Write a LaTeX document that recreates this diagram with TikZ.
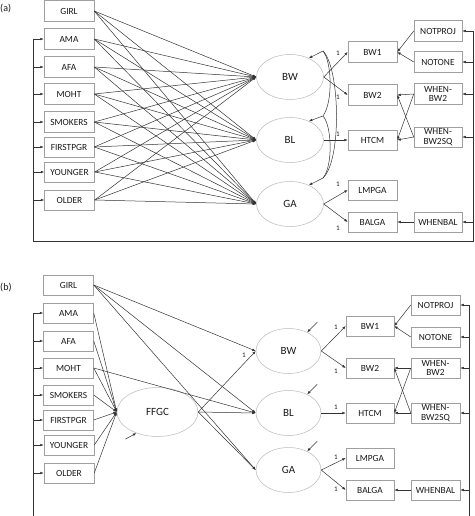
\documentclass[tikz,border=0pt]{standalone}
\usepackage{fontspec}
\setmainfont{Carlito}
\usetikzlibrary{shapes.geometric,arrows.meta,calc}
\begin{document}
\begin{tikzpicture}[x=1pt,y=-1pt,
  every path/.style={line width=0.5pt},
  conn/.style={draw=black!80},
  arr/.style={conn,-{Latex[length=3.5pt,width=2.6pt]}},
  varbox/.style={draw=gray!75,rectangle,minimum width=50pt,minimum height=20.5pt,inner sep=0pt,
    font=\fontsize{9.4}{9.8}\selectfont,text=black!90,align=center},
  rbox/.style={varbox,minimum width=49pt},
  lat/.style={draw=gray!55,ellipse,minimum width=67pt,minimum height=45pt,inner sep=0pt,
    font=\fontsize{11}{12}\selectfont,text=black!90},
  one/.style={font=\fontsize{7}{8}\selectfont,text=black!90,inner sep=0pt},
  paneltag/.style={font=\fontsize{10}{11}\selectfont,anchor=west,inner sep=0pt,text=black!90}]
\useasboundingbox (0,0) rectangle (474,516);

% ================= panel (a) =================
\node[paneltag] (tagA) at (0,9) {(a)};
\node[varbox] (aGIRL) at (69,11) {GIRL};
\node[varbox] (aAMA) at (69,39) {AMA};
\node[varbox] (aAFA) at (69,67) {AFA};
\node[varbox] (aMOHT) at (69,94) {MOHT};
\node[varbox] (aSMOKERS) at (69,122) {SMOKERS};
\node[varbox] (aFIRSTPGR) at (69,147) {FIRSTPGR};
\node[varbox] (aYOUNGER) at (69.5,172) {YOUNGER};
\node[varbox] (aOLDER) at (69.5,200) {OLDER};

\node[lat] (aBW) at (290,77) {BW};
\node[lat] (aBL) at (290,140) {BL};
\node[lat] (aGA) at (290,204) {GA};

\node[rbox] (aBWone) at (372.5,52) {BW1};
\node[rbox] (aBWtwo) at (372.5,95) {BW2};
\node[rbox] (aHTCM) at (372.5,140) {HTCM};
\node[rbox] (aLMPGA) at (372.5,190) {LMPGA};
\node[rbox] (aBALGA) at (372.5,222) {BALGA};

\node[rbox,minimum width=48pt] (aNOTPROJ) at (438,31) {NOTPROJ};
\node[rbox,minimum width=48pt] (aNOTONE) at (438,62) {NOTONE};
\node[rbox,minimum width=48pt] (aWB) at (438,94) {WHEN-\\BW2};
\node[rbox,minimum width=48pt] (aWBSQ) at (438,137) {WHEN-\\BW2SQ};
\node[rbox,minimum width=48pt] (aWHENBAL) at (438,222) {WHENBAL};

\foreach \s in {GIRL,AMA,AFA,MOHT,SMOKERS,FIRSTPGR,YOUNGER,OLDER}
  \foreach \t in {BW,BL,GA}
    \draw[arr] (a\s.east) -- (a\t.west);

\draw[arr] (aBW.east) -- (aBWone.west);
\draw[arr] (aBW.east) -- (aBWtwo.west);
\draw[arr] (aBL.east) -- (aHTCM.west);
\draw[arr] (aGA.east) -- (aLMPGA.west);
\draw[arr] (aGA.east) -- (aBALGA.west);
\node[one] (a1a) at (338,53) {1};
\node[one] (a1b) at (338,97) {1};
\node[one] (a1c) at (338,134.5) {1};
\node[one] (a1d) at (338,184) {1};
\node[one] (a1e) at (338,228) {1};

\draw[arr] (aNOTPROJ.west) -- (aBWone.east);
\draw[arr] (aNOTONE.west) -- (aBWone.east);
\draw[arr] (aWB.west) -- (aBWtwo.east);
\draw[arr] (aWB.west) -- (aHTCM.east);
\draw[arr] (aWBSQ.west) -- (aBWtwo.east);
\draw[arr] (aWBSQ.west) -- (aHTCM.east);
\draw[arr] (aWHENBAL.west) -- (aBALGA.east);

% covariances
\coordinate (cBW) at (323,51);
\coordinate (cBL) at (323,116);
\coordinate (cGA) at (323,178);
\draw[arr] (cBW) -- (aBW.45);
\draw[arr] (cBL) -- (aBL.45);
\draw[arr] (cGA) -- (aGA.45);
\draw[conn] (cBW) .. controls (332,62) and (333,102) .. (cBL);
\draw[conn] (cBL) .. controls (332,126) and (333,166) .. (cGA);
\draw[conn] (cBW) .. controls (340,68) and (342,160) .. (cGA);

% loop lines
\coordinate (aL) at (33,241);
\coordinate (aR) at (473,241);
\draw[conn] (aL |- aAMA.west) -- (aL) -- (aR) -- (aR |- aNOTPROJ.east);
\foreach \s in {AMA,AFA,MOHT,SMOKERS,FIRSTPGR,YOUNGER,OLDER}
  \draw[arr] (aL |- a\s.west) -- (a\s.west);
\foreach \s in {NOTPROJ,NOTONE,WB,WBSQ,WHENBAL}
  \draw[arr] (aR |- a\s.east) -- (a\s.east);

% ================= panel (b) =================
\node[paneltag] (tagB) at (0,288) {(b)};
\node[varbox] (bGIRL) at (68.5,285) {GIRL};
\node[varbox] (bAMA) at (68.5,313) {AMA};
\node[varbox] (bAFA) at (68.5,341) {AFA};
\node[varbox] (bMOHT) at (68.5,368) {MOHT};
\node[varbox] (bSMOKERS) at (68.5,395) {SMOKERS};
\node[varbox] (bFIRSTPGR) at (68.5,420) {FIRSTPGR};
\node[varbox] (bYOUNGER) at (69,445) {YOUNGER};
\node[varbox] (bOLDER) at (69,473) {OLDER};

\node[lat,minimum width=81pt,minimum height=49pt] (bFFGC) at (157.5,412) {FFGC};

\node[lat,minimum width=65pt] (bBW) at (288.5,351) {BW};
\node[lat,minimum width=65pt] (bBL) at (288.5,413) {BL};
\node[lat,minimum width=65pt] (bGA) at (288.5,470) {GA};

\node[rbox,minimum width=48pt] (bBWone) at (370,326) {BW1};
\node[rbox,minimum width=48pt] (bBWtwo) at (370,368) {BW2};
\node[rbox,minimum width=48pt] (bHTCM) at (370,413) {HTCM};
\node[rbox,minimum width=48pt] (bLMPGA) at (370,458) {LMPGA};
\node[rbox,minimum width=48pt] (bBALGA) at (370,490) {BALGA};

\node[rbox] (bNOTPROJ) at (435.5,305) {NOTPROJ};
\node[rbox] (bNOTONE) at (435.5,337) {NOTONE};
\node[rbox] (bWB) at (435.5,368) {WHEN-\\BW2};
\node[rbox] (bWBSQ) at (435.5,413) {WHEN-\\BW2SQ};
\node[rbox] (bWHENBAL) at (435.5,490) {WHENBAL};

\foreach \s in {AMA,AFA,MOHT,SMOKERS,FIRSTPGR,YOUNGER,OLDER}
  \draw[arr] (b\s.east) -- (bFFGC.west);
\foreach \t in {BW,BL,GA}
  \draw[arr] (bGIRL.east) -- (b\t.west);
\draw[arr] (bMOHT.east) -- (bBL.west);
\draw[arr] (bFFGC.east) -- (bBW.west);
\draw[arr] (bFFGC.east) -- (bBL.west);
\draw[arr] (bFFGC.east) -- (bGA.west);
\node[one] (b1f) at (244,355) {1};

% disturbances
\draw[arr] ($(bBW.45)+(10,-10)$) -- (bBW.45);
\draw[arr] ($(bBL.45)+(10,-10)$) -- (bBL.45);
\draw[arr] ($(bGA.45)+(10,-10)$) -- (bGA.45);
\draw[arr] ($(bFFGC.225)+(-11,6)$) -- (bFFGC.225);

\draw[arr] (bBW.east) -- (bBWone.west);
\draw[arr] (bBW.east) -- (bBWtwo.west);
\draw[arr] (bBL.east) -- (bHTCM.west);
\draw[arr] (bGA.east) -- (bLMPGA.west);
\draw[arr] (bGA.east) -- (bBALGA.west);
\node[one] (b1a) at (336,327) {1};
\node[one] (b1b) at (336,371) {1};
\node[one] (b1c) at (336,407) {1};
\node[one] (b1d) at (336,457) {1};
\node[one] (b1e) at (336,489) {1};

\draw[arr] (bNOTPROJ.west) -- (bBWone.east);
\draw[arr] (bNOTONE.west) -- (bBWone.east);
\draw[arr] (bWB.west) -- (bBWtwo.east);
\draw[arr] (bWB.west) -- (bHTCM.east);
\draw[arr] (bWBSQ.west) -- (bBWtwo.east);
\draw[arr] (bWBSQ.west) -- (bHTCM.east);
\draw[arr] (bWHENBAL.west) -- (bBALGA.east);

\coordinate (bL) at (33,516);
\coordinate (bR) at (469,516);
\draw[conn] (bL |- bAMA.west) -- (bL);
\draw[conn] (bR |- bNOTPROJ.east) -- (bR);
\foreach \s in {AMA,AFA,MOHT,SMOKERS,FIRSTPGR,YOUNGER,OLDER}
  \draw[arr] (bL |- b\s.west) -- (b\s.west);
\foreach \s in {NOTPROJ,NOTONE,WB,WBSQ,WHENBAL}
  \draw[arr] (bR |- b\s.east) -- (b\s.east);
\end{tikzpicture}
\end{document}
